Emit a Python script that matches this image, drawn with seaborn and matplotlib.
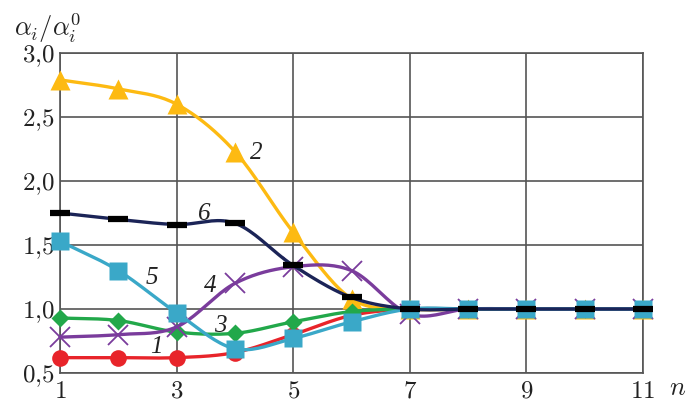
import numpy as np
import pandas as pd
import matplotlib
matplotlib.use("Agg")
import matplotlib.pyplot as plt
import seaborn as sns

sns.set_style("white")
plt.rcParams["mathtext.fontset"] = "cm"

n = [1, 2, 3, 4, 5, 6, 7, 8, 9, 10, 11]
s1 = [0.62, 0.62, 0.62, 0.66, 0.80, 0.95, 1.0, 1.0, 1.0, 1.0, 1.0]
s2 = [2.79, 2.72, 2.60, 2.23, 1.60, 1.08, 1.0, 1.0, 1.0, 1.0, 1.0]
s3 = [0.93, 0.91, 0.82, 0.81, 0.90, 0.98, 1.0, 1.0, 1.0, 1.0, 1.0]
s4 = [0.78, 0.80, 0.86, 1.20, 1.33, 1.30, 0.96, 1.0, 1.0, 1.0, 1.0]
s5 = [1.53, 1.30, 0.97, 0.69, 0.77, 0.90, 1.0, 1.0, 1.0, 1.0, 1.0]
s6 = [1.75, 1.70, 1.66, 1.67, 1.34, 1.09, 1.0, 1.0, 1.0, 1.0, 1.0]

x_ticks = [1, 3, 5, 7, 9, 11]
y_ticks = [0.5, 1.0, 1.5, 2.0, 2.5, 3.0]
y_tick_labels = ["0,5", "1,0", "1,5", "2,0", "2,5", "3,0"]

series = [
    # (label, values, colour, marker, marker size, marker colour, label position)
    ("1", s1, "#E8242A", "o", 12, "#E8242A", (2.65, 0.70)),
    ("2", s2, "#FDBA12", "^", 14, "#FDBA12", (4.37, 2.22)),
    ("3", s3, "#22A84A", "D", 9.5, "#22A84A", (3.75, 0.87)),
    ("4", s4, "#7A3C9C", "x", 14, "#7A3C9C", (3.58, 1.18)),
    ("5", s5, "#3AA8C8", "s", 13, "#3AA8C8", (2.57, 1.24)),
    ("6", s6, "#1B2457", "_", 15, "#000000", (3.48, 1.74)),
]


def catmull_rom(x, y, k=20):
    x = np.asarray(x, float)
    y = np.asarray(y, float)
    xp = np.concatenate([[2 * x[0] - x[1]], x, [2 * x[-1] - x[-2]]])
    yp = np.concatenate([[2 * y[0] - y[1]], y, [2 * y[-1] - y[-2]]])
    xs, ys = [], []
    t = np.linspace(0, 1, k, endpoint=False)
    for i in range(1, len(xp) - 2):
        p0, p1, p2, p3 = yp[i - 1], yp[i], yp[i + 1], yp[i + 2]
        yy = 0.5 * ((2 * p1) + (-p0 + p2) * t
                    + (2 * p0 - 5 * p1 + 4 * p2 - p3) * t ** 2
                    + (-p0 + 3 * p1 - 3 * p2 + p3) * t ** 3)
        xx = xp[i] + (xp[i + 1] - xp[i]) * t
        xs.append(xx)
        ys.append(yy)
    xs.append([x[-1]])
    ys.append([y[-1]])
    return np.concatenate(xs), np.concatenate(ys)


fig = plt.figure(figsize=(6.87, 4.03), dpi=100)
ax = fig.add_axes([60 / 687, 1 - 373 / 403, 583 / 687, 320 / 403])

for i, (lab, vals, col, mk, ms, mcol, _) in enumerate(series):
    z = 3 + 2 * i
    cx, cy = catmull_rom(n, vals)
    curve = pd.DataFrame({"n": cx, "v": cy})
    sns.lineplot(data=curve, x="n", y="v", ax=ax, color=col, lw=2.4,
                 sort=False, estimator=None, zorder=z, clip_on=False)
    pts = pd.DataFrame({"n": n, "v": vals})
    if mk in ("x", "_"):
        ax.plot(pts["n"], pts["v"], ls="none", marker=mk, ms=ms,
                mec=mcol, mew=1.3 if mk == "x" else 4.5, zorder=z + 1,
                clip_on=False)
    else:
        ax.plot(pts["n"], pts["v"], ls="none", marker=mk, ms=ms,
                mfc=mcol, mec="none", zorder=z + 1, clip_on=False)

for lab, vals, col, mk, ms, mcol, pos in series:
    ax.text(pos[0], pos[1], lab, fontsize=18, family="Liberation Serif",
            style="italic", color="#222222", ha="center", va="center",
            zorder=20)

ax.set_xlim(1, 11)
ax.set_ylim(0.5, 3.0)
ax.set_xticks(x_ticks)
ax.set_xticklabels([f"${t}$" for t in x_ticks])
ax.set_yticks(y_ticks)
ax.set_yticklabels([f"${t.replace(',', '{,}')}$" for t in y_tick_labels])
ax.tick_params(axis="both", labelsize=18, length=0, colors="#222222", pad=4)
ax.set_xlabel("")
ax.set_ylabel("")
ax.grid(True, color="#555555", lw=1.2)
for sp in ax.spines.values():
    sp.set_color("#555555")
    sp.set_linewidth(1.2)
ax.set_axisbelow(True)

fig.text(14 / 687, 1 - 28 / 403, r"$\alpha_i/\alpha_i^0$", fontsize=19,
         color="#222222", ha="left", va="center")
fig.text(678 / 687, 1 - 388 / 403, r"$n$", fontsize=19,
         color="#222222", ha="center", va="center")

fig.savefig("out.png", dpi=100)
